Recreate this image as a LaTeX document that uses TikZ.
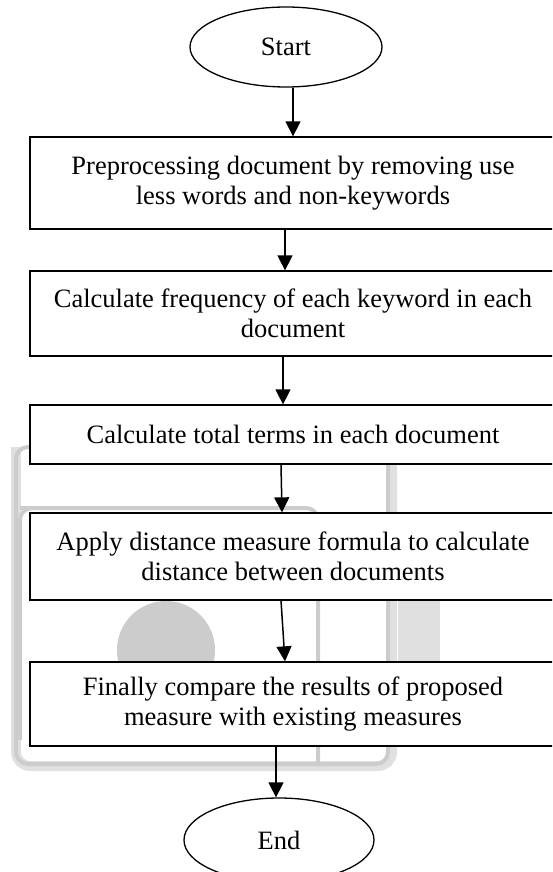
\documentclass[tikz,border=0pt]{standalone}
\usepackage{fontspec}
\setmainfont{Liberation Serif}
\usetikzlibrary{arrows.meta, shapes.geometric}
\definecolor{wmdark}{gray}{0.80}
\definecolor{wmlight}{gray}{0.88}
\begin{document}
\begin{tikzpicture}[x=1pt, y=-1pt,
  stepbox/.style={draw, line width=1.3pt, fill=white, rectangle, inner sep=0pt,
    align=center, minimum width=526pt, font=\fontsize{26.5}{30.5}\selectfont},
  terminal/.style={draw, line width=1.3pt, fill=white, ellipse, inner sep=0pt,
    font=\fontsize{26.5}{30.5}\selectfont},
  flow/.style={line width=1.5pt, -{Triangle[width=15pt, length=15pt]}},
  wmline/.style={draw=wmdark, line width=4pt, rounded corners=12pt}
]
\useasboundingbox (0,0) rectangle (552,872);
\clip (0,0) rectangle (552,872);

% faint background logo
\draw[draw=wmlight, line width=10pt, rounded corners=14pt] (16,447) -- (16,766) -- (392,766) -- (392,447);
\draw[wmline] (30,447) -- (16,447) -- (16,764) -- (388,764) -- (388,440);
\draw[wmline] (30,508) -- (20,508) -- (20,740);
\draw[wmline] (20,508) -- (318,508) -- (318,764);
\fill[wmlight] (398,600) rectangle (440,662);
\fill[wmdark] (166,650) circle (49pt);

% flow chart
\node[terminal, minimum width=192pt, minimum height=80pt] (start) at (286,47) {Start};
\node[stepbox, minimum height=92pt] (pre) at (293,183)
  {Preprocessing document by removing use\\less words and non-keywords};
\node[stepbox, minimum height=85pt] (freq) at (293,313.5)
  {Calculate frequency of each keyword in each\\document};
\node[stepbox, minimum height=59pt] (total) at (293,434.5)
  {Calculate total terms in each document};
\node[stepbox, minimum height=87pt] (dist) at (293,556.5)
  {Apply distance measure formula to calculate\\distance between documents};
\node[stepbox, minimum height=84pt] (cmp) at (293,704)
  {Finally compare the results of proposed\\measure with existing measures};
\node[terminal, minimum width=190pt, minimum height=84pt] (end) at (279,840) {End};

\draw[flow] ([xshift=7pt]start.south) -- (pre.north);
\draw[flow] ([xshift=-8pt]pre.south) -- ([xshift=-8pt]freq.north);
\draw[flow] ([xshift=-10pt]freq.south) -- ([xshift=-10pt]total.north);
\draw[flow] ([xshift=-12pt]total.south) -- ([xshift=-11pt]dist.north);
\draw[flow] ([xshift=-12pt]dist.south) -- ([xshift=-8pt]cmp.north);
\draw[flow] ([xshift=-17pt]cmp.south) -- ([xshift=-3pt]end.north);
\end{tikzpicture}
\end{document}
